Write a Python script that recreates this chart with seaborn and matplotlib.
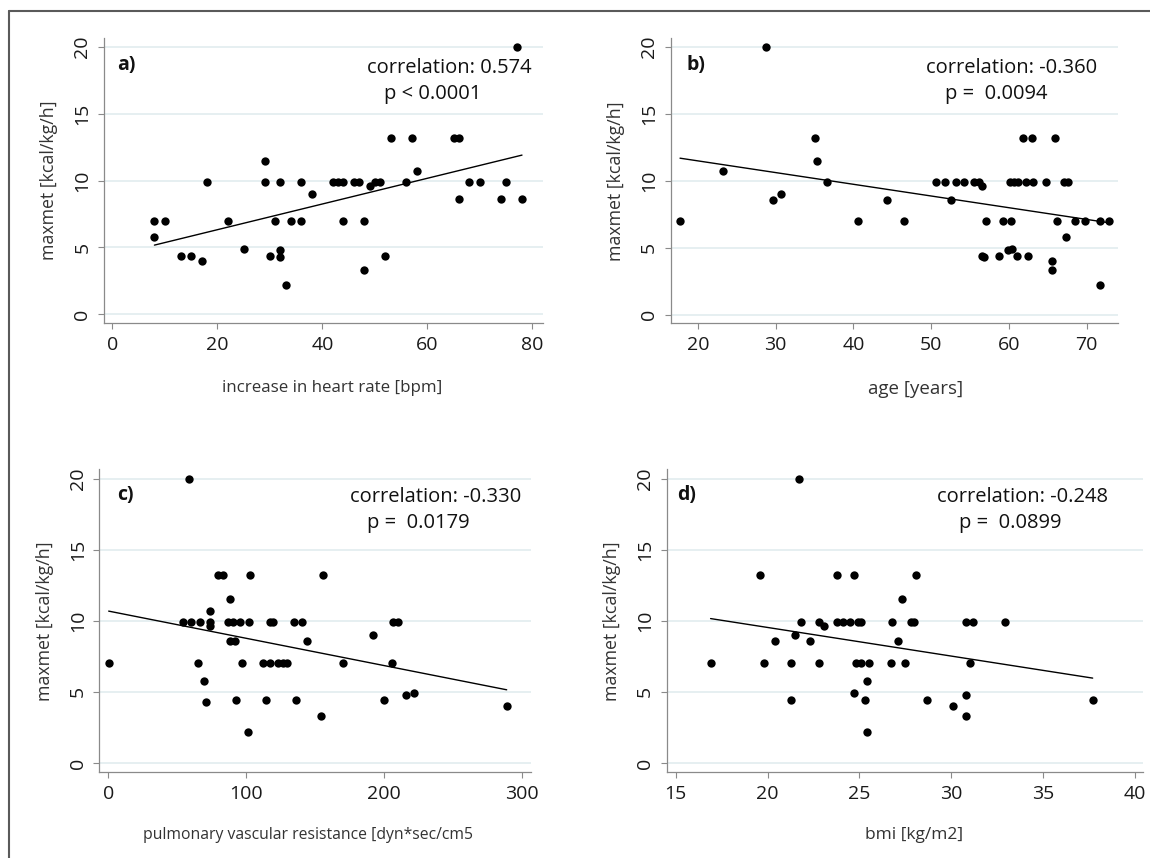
import matplotlib
matplotlib.use("Agg")
import matplotlib.pyplot as plt
import seaborn as sns
import numpy as np
from matplotlib.lines import Line2D

# ---------------- data ----------------
hr_increase = [8, 10, 8, 13, 15, 17, 18, 22, 25, 29, 29, 30, 31, 32, 32, 32, 33, 34, 36, 36,
               38, 42, 43, 44, 44, 46, 47, 48, 48, 49, 50, 51, 52, 53, 56, 57, 58, 65, 66, 66,
               68, 70, 74, 75, 77, 78]
maxmet_a = [7.0, 7.0, 5.8, 4.4, 4.4, 4.0, 9.9, 7.0, 4.9, 11.5, 9.9, 4.4, 7.0, 9.9, 4.8, 4.3, 2.2, 7.0, 9.9, 7.0,
            9.0, 9.9, 9.9, 9.9, 7.0, 9.9, 9.9, 7.0, 3.3, 9.6, 9.9, 9.9, 4.4, 13.2, 9.9, 13.2, 10.7, 13.2, 13.2, 8.6,
            9.9, 9.9, 8.6, 9.9, 20.0, 8.6]

age = [17.7, 23.2, 28.7, 29.7, 30.7, 35.0, 35.3, 36.6, 40.6, 44.3, 46.5, 50.6, 51.8, 52.5, 53.2, 54.2,
       55.5, 56.1, 56.5, 56.5, 56.8, 57.1, 58.7, 59.2, 59.9, 60.4, 60.2, 60.6, 61.2, 60.3, 61.1, 61.8,
       63.0, 62.2, 63.1, 62.4, 64.8, 65.9, 65.6, 65.6, 66.2, 67.1, 67.6, 67.3, 68.5, 69.8, 71.7, 71.7, 72.9]
maxmet_b = [7.0, 10.7, 20.0, 8.6, 9.0, 13.2, 11.5, 9.9, 7.0, 8.6, 7.0, 9.9, 9.9, 8.6, 9.9, 9.9,
            9.9, 9.9, 9.6, 4.4, 4.3, 7.0, 4.4, 7.0, 4.8, 4.9, 9.9, 9.9, 9.9, 7.0, 4.4, 13.2,
            13.2, 9.9, 9.9, 4.4, 9.9, 13.2, 4.0, 3.3, 7.0, 9.9, 9.9, 5.8, 7.0, 7.0, 7.0, 2.2, 7.0]

pvr = [0.3, 58.7, 54.4, 59.7, 66.4, 73.7, 73.7, 73.7, 88.2, 79.7, 83.3, 102.9, 155.8, 87.0, 90.6, 95.4,
       102.2, 117.2, 119.2, 134.8, 140.6, 206.1, 209.7, 88.2, 92.0, 143.7, 191.6, 65.2, 69.3, 96.6, 112.3,
       117.2, 123.2, 126.4, 129.7, 169.8, 205.8, 70.8, 92.5, 114.0, 136.0, 199.8, 215.7, 221.8, 288.7,
       153.9, 101.0]
maxmet_c = [7.0, 20.0, 9.9, 9.9, 9.9, 9.9, 9.6, 10.7, 11.5, 13.2, 13.2, 13.2, 13.2, 9.9, 9.9, 9.9,
            9.9, 9.9, 9.9, 9.9, 9.9, 9.9, 9.9, 8.6, 8.6, 8.6, 9.0, 7.0, 5.8, 7.0, 7.0,
            7.0, 7.0, 7.0, 7.0, 7.0, 7.0, 4.3, 4.4, 4.4, 4.4, 4.4, 4.8, 4.9, 4.0,
            3.3, 2.2]

bmi = [16.9, 21.7, 19.6, 23.8, 24.7, 28.1, 27.3, 21.8, 22.8, 23.1, 23.8, 24.1, 24.5, 24.9, 25.1, 26.8,
       27.8, 28.0, 30.8, 31.2, 32.9, 20.4, 21.5, 22.3, 27.1, 19.8, 21.3, 22.8, 24.8, 25.1, 25.5, 26.7,
       27.5, 31.0, 25.4, 21.3, 24.7, 25.3, 28.7, 30.1, 30.8, 30.8, 37.7, 25.4]
maxmet_d = [7.0, 20.0, 13.2, 13.2, 13.2, 13.2, 11.5, 9.9, 9.9, 9.6, 9.9, 9.9, 9.9, 9.9, 9.9, 9.9,
            9.9, 9.9, 9.9, 9.9, 9.9, 8.6, 9.0, 8.6, 8.6, 7.0, 7.0, 7.0, 7.0, 7.0, 7.0, 7.0,
            7.0, 7.0, 5.8, 4.4, 4.9, 4.4, 4.4, 4.0, 4.8, 3.3, 4.4, 2.2]

panel_letters = ["a)", "b)", "c)", "d)"]
x_titles = ["increase in heart rate [bpm]", "age [years]",
            "pulmonary vascular resistance [dyn*sec/cm5", "bmi [kg/m2]"]
y_title = "maxmet [kcal/kg/h]"
corr_texts = ["correlation: 0.574", "correlation: -0.360", "correlation: -0.330", "correlation: -0.248"]
p_texts = ["p < 0.0001", "p =  0.0094", "p =  0.0179", "p =  0.0899"]
x_ticks = [[0, 20, 40, 60, 80], [20, 30, 40, 50, 60, 70], [0, 100, 200, 300], [15, 20, 25, 30, 35, 40]]
y_ticks = [0, 5, 10, 15, 20]

# ---------------- style ----------------
sns.set_theme(style="white")
plt.rcParams["font.family"] = ["Open Sans", "DejaVu Sans"]

W, H = 1150, 858
fig = plt.figure(figsize=(W / 100, H / 100), dpi=100)


def rect(l, r, t, b):
    return [l / W, 1 - b / H, (r - l) / W, (b - t) / H]


panels = [
    dict(pos=rect(104, 543, 38.3, 323), xlim=(-1.6, 82.0), x=hr_increase, y=maxmet_a,
         corr=(48.4, 18.45), p=(51.8, 16.45), lab=(0.030, 0.905), xl=(0.519, -0.20), xfs=12.2),
    dict(pos=rect(670.7, 1117.7, 38.3, 323.3), xlim=(16.5, 74.0), x=age, y=maxmet_b,
         corr=(49.4, 18.45), p=(51.8, 16.45), lab=(0.036, 0.905), xl=(0.547, -0.20), xfs=13.5),
    dict(pos=rect(99.3, 530.7, 469.3, 772.3), xlim=(-6.5, 306.1), x=pvr, y=maxmet_c,
         corr=(175.0, 18.7), p=(187.5, 16.9), lab=(0.042, 0.915), xl=(0.484, -0.18), xfs=11.3),
    dict(pos=rect(666.7, 1143, 469.3, 772.3), xlim=(14.51, 40.44), x=bmi, y=maxmet_d,
         corr=(29.2, 18.7), p=(30.4, 16.9), lab=(0.021, 0.915), xl=(0.52, -0.18), xfs=12.5),
]

for i, pdef in enumerate(panels):
    ax = fig.add_axes(pdef["pos"])
    ax.set_facecolor("white")
    for yv in y_ticks:
        ax.axhline(yv, color="#e6eff1", lw=1.4, zorder=0)
    sns.regplot(x=pdef["x"], y=pdef["y"], ax=ax, ci=None, scatter=False, truncate=True,
                line_kws=dict(color="black", lw=1.0, zorder=2))
    sns.scatterplot(x=pdef["x"], y=pdef["y"], ax=ax, color="black", s=36, linewidth=0, zorder=3)
    ax.set_xlim(*pdef["xlim"])
    ax.set_ylim(-0.65, 20.65)
    ax.set_xticks(x_ticks[i])
    ax.set_yticks(y_ticks)
    ax.set_yticklabels([str(v) for v in y_ticks], rotation=90, va="center")
    ax.tick_params(axis="both", which="major", length=4, width=0.8, color="#8a8a8a",
                   labelsize=14, labelcolor="#1a1a1a", direction="out", left=True, bottom=True)
    ax.tick_params(axis="y", pad=5)
    ax.tick_params(axis="x", pad=5)
    for s in ["top", "right"]:
        ax.spines[s].set_visible(False)
    for s in ["left", "bottom"]:
        ax.spines[s].set_color("#8a8a8a")
        ax.spines[s].set_linewidth(0.9)
    ax.set_xlabel(x_titles[i], fontsize=pdef["xfs"], color="#333333")
    ax.xaxis.set_label_coords(*pdef["xl"])
    ax.set_ylabel(y_title, fontsize=12.8, color="#333333", labelpad=11)
    ax.text(*pdef["corr"], corr_texts[i], fontsize=14.5, color="#111111", ha="left", va="center")
    ax.text(*pdef["p"], p_texts[i], fontsize=14.5, color="#111111", ha="left", va="center")
    ax.text(*pdef["lab"], panel_letters[i], transform=ax.transAxes, fontsize=14,
            fontweight="bold", color="#111111", ha="left", va="center")
    ax.grid(False)

# outer frame (left and top edges visible)
fig.add_artist(Line2D([9 / W, 9 / W], [0, 1 - 11 / H], transform=fig.transFigure,
                      color="#5a5a5a", lw=1.5))
fig.add_artist(Line2D([9 / W, 1], [1 - 11 / H, 1 - 11 / H], transform=fig.transFigure,
                      color="#5a5a5a", lw=1.5))

fig.savefig("out.png", dpi=100, facecolor="white")
